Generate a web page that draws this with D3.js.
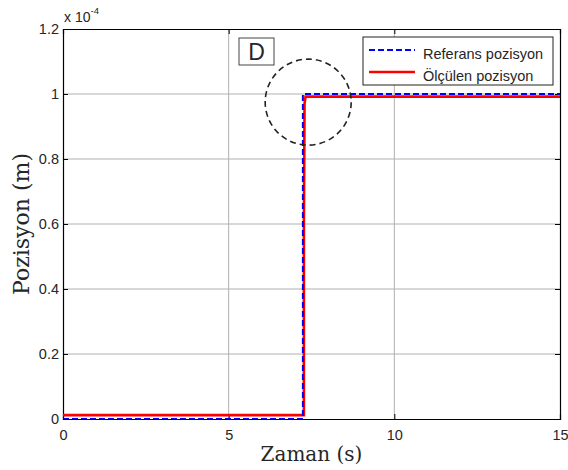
<!DOCTYPE html>
<html><head><meta charset="utf-8">
<script src="https://cdn.jsdelivr.net/npm/d3@7"></script>
<style>body{margin:0;background:#fff}svg{display:block}</style>
</head><body>
<svg id="c" width="568" height="470"></svg>
<script>
const refTime = [0, 7.24, 7.24, 15];
const refPos = [0, 0, 1.0e-4, 1.0e-4];
const measTime = [0, 7.27, 7.27, 7.29, 7.32, 15];
const measPos = [0.012e-4, 0.012e-4, 0.6e-4, 0.97e-4, 0.992e-4, 0.992e-4];
const xTicks = [0, 5, 10, 15];
const yTicks = [0, 0.2e-4, 0.4e-4, 0.6e-4, 0.8e-4, 1.0e-4, 1.2e-4];
const seriesNames = ["Referans pozisyon", "Ölçülen pozisyon"];
const circleCenter = [7.4, 0.975e-4];

const svg = d3.select("#c");
const L = 63, R = 560, T = 29, B = 419;
const x = d3.scaleLinear().domain([0, 15]).range([L, R]);
const y = d3.scaleLinear().domain([0, 1.2e-4]).range([B, T]);
const tf = d3.format("~g");
const yFmt = v => tf(+(v / 1e-4).toFixed(4));
const txt = "#262626";

// grid
svg.append("g").selectAll("line").data(xTicks.slice(1, -1)).join("line")
  .attr("x1", d => x(d)).attr("x2", d => x(d)).attr("y1", T).attr("y2", B)
  .attr("stroke", "#b0b0b0").attr("stroke-width", 1);
svg.append("g").selectAll("line").data(yTicks.slice(1, -1)).join("line")
  .attr("y1", d => y(d)).attr("y2", d => y(d)).attr("x1", L).attr("x2", R)
  .attr("stroke", "#b0b0b0").attr("stroke-width", 1);

// axes
const font = "Liberation Sans, Arial, sans-serif";
const ax = svg.append("g").attr("transform", `translate(0,${B})`)
  .call(d3.axisBottom(x).tickValues(xTicks).tickSize(-5).tickPadding(11).tickFormat(tf));
const ax2 = svg.append("g").attr("transform", `translate(0,${T})`)
  .call(d3.axisTop(x).tickValues(xTicks).tickSize(-5).tickFormat(""));
const ay = svg.append("g").attr("transform", `translate(${L},0)`)
  .call(d3.axisLeft(y).tickValues(yTicks).tickSize(-5).tickPadding(4).tickFormat(yFmt));
const ay2 = svg.append("g").attr("transform", `translate(${R},0)`)
  .call(d3.axisRight(y).tickValues(yTicks).tickSize(-5).tickFormat(""));
[ax, ax2, ay, ay2].forEach(g => {
  g.selectAll("path").attr("stroke", "#000").attr("stroke-width", 1.2);
  g.selectAll("line").attr("stroke", "#000");
  g.selectAll("text").attr("font-family", font).attr("font-size", 14.5).attr("fill", txt);
});

// exponent label
const ex = svg.append("text").attr("x", 64).attr("y", 22).attr("font-family", font)
  .attr("font-size", 14).attr("fill", txt);
ex.append("tspan").text("x 10");
ex.append("tspan").attr("dy", -8).attr("font-size", 9.5).text("-4");

// lines
const line = d3.line().x(d => x(d[0])).y(d => y(d[1]));
svg.append("clipPath").attr("id", "cp").append("rect")
  .attr("x", L).attr("y", T).attr("width", R - L).attr("height", B - T);
svg.append("path").attr("clip-path", "url(#cp)")
  .datum(measTime.map((t, i) => [t, measPos[i]]))
  .attr("d", line).attr("fill", "none").attr("stroke", "#ff0000").attr("stroke-width", 2.6);
svg.append("path").attr("clip-path", "url(#cp)")
  .datum(refTime.map((t, i) => [t, refPos[i]]))
  .attr("d", line).attr("fill", "none").attr("stroke", "#0000ff").attr("stroke-width", 2)
  .attr("stroke-dasharray", "6,3");

// annotation circle
svg.append("circle").attr("cx", x(circleCenter[0])).attr("cy", y(circleCenter[1])).attr("r", 43)
  .attr("fill", "none").attr("stroke", "#222").attr("stroke-width", 1.6).attr("stroke-dasharray", "6,4");

// D box
svg.append("rect").attr("x", 239).attr("y", 38).attr("width", 35).attr("height", 27)
  .attr("fill", "#fff").attr("stroke", "#444").attr("stroke-width", 1);
svg.append("text").attr("x", 256.5).attr("y", 60).attr("text-anchor", "middle")
  .attr("font-family", font).attr("font-size", 23).attr("fill", txt).text("D");

// legend
const lg = svg.append("g");
lg.append("rect").attr("x", 363).attr("y", 37).attr("width", 190).attr("height", 48)
  .attr("fill", "#fff").attr("stroke", "#222").attr("stroke-width", 1);
const styles = [{c: "#0000ff", w: 2, dash: "6,3"}, {c: "#ff0000", w: 2.6, dash: null}];
seriesNames.forEach((n, i) => {
  const yy = 50 + i * 22;
  lg.append("line").attr("x1", 369).attr("x2", 415).attr("y1", yy).attr("y2", yy)
    .attr("stroke", styles[i].c).attr("stroke-width", styles[i].w)
    .attr("stroke-dasharray", styles[i].dash);
  lg.append("text").attr("x", 423).attr("y", yy + 8.5).attr("font-family", font)
    .attr("font-size", 14.5).attr("fill", txt).text(n);
});

// axis titles
const serif = "DejaVu Serif, Liberation Serif, serif";
svg.append("text").attr("x", (L + R) / 2).attr("y", 461).attr("text-anchor", "middle")
  .attr("font-family", serif).attr("font-size", 20).attr("fill", txt).text("Zaman (s)");
svg.append("text").attr("transform", `translate(29,${(T + B) / 2}) rotate(-90)`)
  .attr("text-anchor", "middle").attr("font-family", serif).attr("font-size", 22)
  .attr("fill", txt).text("Pozisyon (m)");
</script>
</body></html>
